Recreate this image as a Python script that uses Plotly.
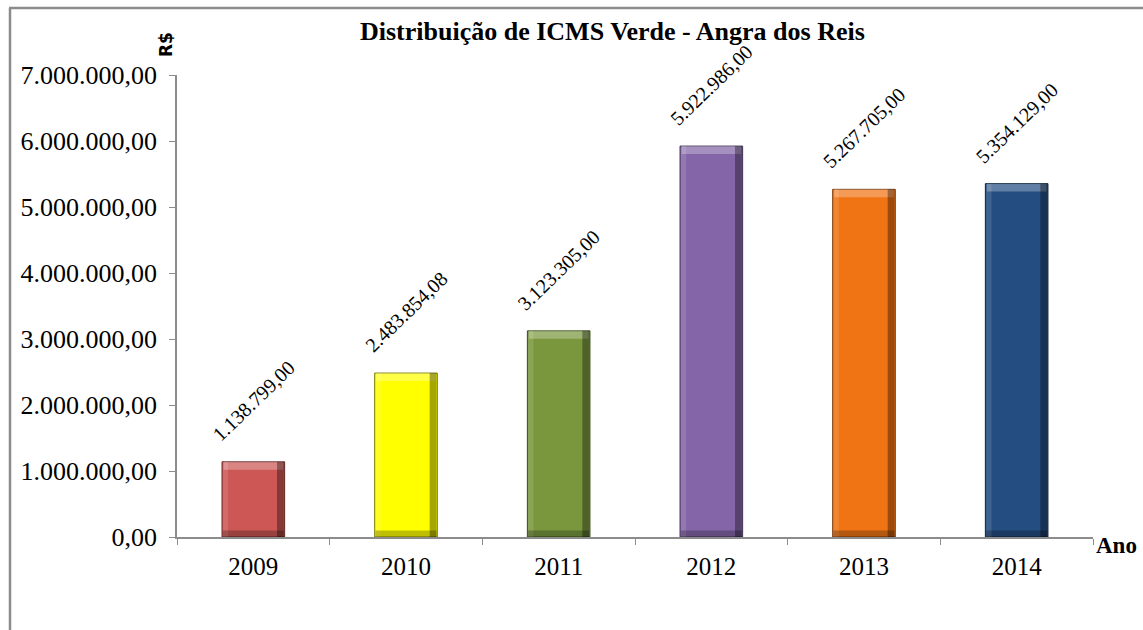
import plotly.graph_objects as go

years = ["2009", "2010", "2011", "2012", "2013", "2014"]
values = [1138799.00, 2483854.08, 3123305.00, 5922986.00, 5267705.00, 5354129.00]
colors = ["#CD5754", "#FFFF00", "#7A973E", "#8466A8", "#F07414", "#244E82"]
edge_colors = ["#5E2422", "#7A7A00", "#3A4B1C", "#3E3054", "#7A3705", "#0E223B"]
y_ticks = [0, 1000000, 2000000, 3000000, 4000000, 5000000, 6000000, 7000000]
labels = [f"{v:,.2f}".replace(",", "X").replace(".", ",").replace("X", ".") for v in values]

serif = "Liberation Serif, Times New Roman, serif"
BW = 0.41
band_top = 120000
band_bottom = 100000

fig = go.Figure()
# main bars
fig.add_trace(go.Bar(
    x=years, y=values,
    marker=dict(color=colors, line=dict(color=edge_colors, width=1)),
    width=BW, offset=-BW / 2, hoverinfo="skip",
))
# top highlight (bevel)
fig.add_trace(go.Bar(
    x=years, y=[band_top] * len(values), base=[v - band_top for v in values],
    marker=dict(color="rgba(255,255,255,0.28)", line=dict(width=0)),
    width=BW - 0.02, offset=-BW / 2 + 0.01, hoverinfo="skip",
))
# left light edge
fig.add_trace(go.Bar(
    x=years, y=values,
    marker=dict(color="rgba(255,255,255,0.12)", line=dict(width=0)),
    width=0.035, offset=-BW / 2 + 0.005, hoverinfo="skip",
))
# right dark edge
fig.add_trace(go.Bar(
    x=years, y=values,
    marker=dict(color="rgba(0,0,0,0.35)", line=dict(width=0)),
    width=0.045, offset=BW / 2 - 0.05, hoverinfo="skip",
))
# bottom dark edge
fig.add_trace(go.Bar(
    x=years, y=[band_bottom] * len(values),
    marker=dict(color="rgba(0,0,0,0.25)", line=dict(width=0)),
    width=BW - 0.01, offset=-BW / 2 + 0.005, hoverinfo="skip",
))

for i, (v, lab) in enumerate(zip(values, labels)):
    fig.add_annotation(
        x=i, y=v, text=lab, textangle=-44,
        xanchor="center", yanchor="middle", yshift=61, showarrow=False,
        font=dict(family=serif, size=20, color="#000"),
    )

fig.update_layout(
    width=1143, height=630,
    margin=dict(l=177, r=50, t=75, b=93),
    paper_bgcolor="white", plot_bgcolor="white",
    separators=",.",
    showlegend=False,
    barmode="overlay",
    font=dict(family=serif, color="#000"),
)
fig.update_xaxes(
    type="category", range=[-0.5, len(years) - 0.5],
    showline=True, linecolor="#8c8c8c", linewidth=1.5,
    ticks="outside", ticklen=6, tickcolor="#8c8c8c",
    tickson="boundaries", tickangle=0, ticklabelstandoff=6,
    tickfont=dict(family=serif, size=25),
    showgrid=False, zeroline=False,
)
fig.update_yaxes(
    range=[0, 7000000],
    tickvals=y_ticks, tickformat=",.2f",
    showline=True, linecolor="#8c8c8c", linewidth=1.5,
    ticks="outside", ticklen=6, tickcolor="#8c8c8c", ticklabelstandoff=7,
    tickfont=dict(family=serif, size=26),
    showgrid=False, zeroline=False,
)

fig.add_annotation(
    text="<b>Distribuição de ICMS Verde - Angra dos Reis</b>",
    xref="paper", yref="paper", x=(612 - 177) / 916, y=1 + (75 - 32) / 462,
    xanchor="center", yanchor="middle", showarrow=False,
    font=dict(family=serif, size=26, color="#000"),
)
fig.add_annotation(
    text="<b>R$</b>", textangle=-90,
    xref="paper", yref="paper", x=(166 - 177) / 916, y=1 + (75 - 45) / 462,
    xanchor="center", yanchor="middle", showarrow=False,
    font=dict(family="DejaVu Sans, Arial, sans-serif", size=17, color="#000"),
)
fig.add_annotation(
    text="<b>Ano</b>",
    xref="paper", yref="paper", x=(1116 - 177) / 916, y=-(545 - 537) / 462,
    xanchor="center", yanchor="middle", showarrow=False,
    font=dict(family=serif, size=23, color="#000"),
)

# outer chart-area border (top and left edges visible)
fig.add_shape(type="line", xref="paper", yref="paper",
              x0=(9 - 177) / 916, x1=1.1, y0=1 + (75 - 8) / 462, y1=1 + (75 - 8) / 462,
              line=dict(color="#8c8c8c", width=2.5))
fig.add_shape(type="line", xref="paper", yref="paper",
              x0=(10 - 177) / 916, x1=(10 - 177) / 916, y0=1 + (75 - 8) / 462, y1=-0.3,
              line=dict(color="#8c8c8c", width=2.5))

fig.write_html("out.html")
